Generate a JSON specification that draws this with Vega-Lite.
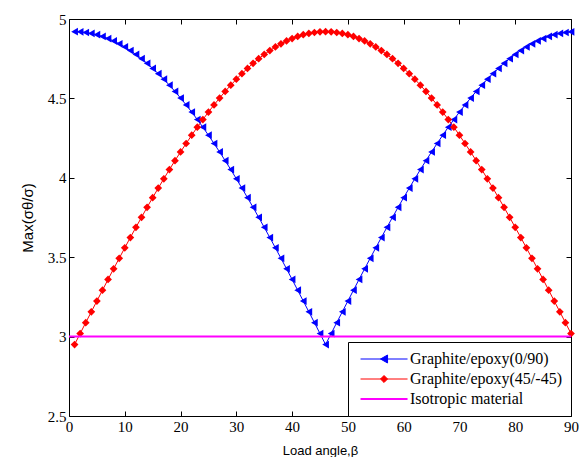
{
  "$schema": "https://vega.github.io/schema/vega-lite/v6.json",
  "width": 502,
  "height": 397,
  "autosize": "none",
  "padding": {"left": 69, "top": 19, "right": 8, "bottom": 41},
  "background": "white",
  "datasets": {
    "g090": [
      {"b":1,"v":4.920},{"b":2,"v":4.919},{"b":3,"v":4.915},{"b":4,"v":4.909},{"b":5,"v":4.901},{"b":6,"v":4.890},{"b":7,"v":4.877},{"b":8,"v":4.862},{"b":9,"v":4.844},{"b":10,"v":4.824},
      {"b":11,"v":4.801},{"b":12,"v":4.777},{"b":13,"v":4.750},{"b":14,"v":4.721},{"b":15,"v":4.689},{"b":16,"v":4.656},{"b":17,"v":4.621},{"b":18,"v":4.583},{"b":19,"v":4.544},{"b":20,"v":4.502},
      {"b":21,"v":4.459},{"b":22,"v":4.414},{"b":23,"v":4.367},{"b":24,"v":4.319},{"b":25,"v":4.268},{"b":26,"v":4.216},{"b":27,"v":4.163},{"b":28,"v":4.108},{"b":29,"v":4.052},{"b":30,"v":3.994},
      {"b":31,"v":3.935},{"b":32,"v":3.875},{"b":33,"v":3.814},{"b":34,"v":3.751},{"b":35,"v":3.688},{"b":36,"v":3.624},{"b":37,"v":3.559},{"b":38,"v":3.493},{"b":39,"v":3.427},{"b":40,"v":3.360},
      {"b":41,"v":3.292},{"b":42,"v":3.224},{"b":43,"v":3.156},{"b":44,"v":3.088},{"b":45,"v":3.019},{"b":46,"v":2.950},{"b":47,"v":3.019},{"b":48,"v":3.088},{"b":49,"v":3.156},{"b":50,"v":3.224},
      {"b":51,"v":3.292},{"b":52,"v":3.360},{"b":53,"v":3.427},{"b":54,"v":3.493},{"b":55,"v":3.559},{"b":56,"v":3.624},{"b":57,"v":3.688},{"b":58,"v":3.751},{"b":59,"v":3.814},{"b":60,"v":3.875},
      {"b":61,"v":3.935},{"b":62,"v":3.994},{"b":63,"v":4.052},{"b":64,"v":4.108},{"b":65,"v":4.163},{"b":66,"v":4.216},{"b":67,"v":4.268},{"b":68,"v":4.319},{"b":69,"v":4.367},{"b":70,"v":4.414},
      {"b":71,"v":4.459},{"b":72,"v":4.502},{"b":73,"v":4.544},{"b":74,"v":4.583},{"b":75,"v":4.621},{"b":76,"v":4.656},{"b":77,"v":4.689},{"b":78,"v":4.721},{"b":79,"v":4.750},{"b":80,"v":4.777},
      {"b":81,"v":4.801},{"b":82,"v":4.824},{"b":83,"v":4.844},{"b":84,"v":4.862},{"b":85,"v":4.877},{"b":86,"v":4.890},{"b":87,"v":4.901},{"b":88,"v":4.909},{"b":89,"v":4.915},{"b":90,"v":4.919}
    ],
    "g45": [
      {"b":1,"v":2.950},{"b":2,"v":3.019},{"b":3,"v":3.088},{"b":4,"v":3.156},{"b":5,"v":3.224},{"b":6,"v":3.292},{"b":7,"v":3.360},{"b":8,"v":3.427},{"b":9,"v":3.493},{"b":10,"v":3.559},
      {"b":11,"v":3.624},{"b":12,"v":3.688},{"b":13,"v":3.751},{"b":14,"v":3.814},{"b":15,"v":3.875},{"b":16,"v":3.935},{"b":17,"v":3.994},{"b":18,"v":4.052},{"b":19,"v":4.108},{"b":20,"v":4.163},
      {"b":21,"v":4.216},{"b":22,"v":4.268},{"b":23,"v":4.319},{"b":24,"v":4.367},{"b":25,"v":4.414},{"b":26,"v":4.459},{"b":27,"v":4.502},{"b":28,"v":4.544},{"b":29,"v":4.583},{"b":30,"v":4.621},
      {"b":31,"v":4.656},{"b":32,"v":4.689},{"b":33,"v":4.721},{"b":34,"v":4.750},{"b":35,"v":4.777},{"b":36,"v":4.801},{"b":37,"v":4.824},{"b":38,"v":4.844},{"b":39,"v":4.862},{"b":40,"v":4.877},
      {"b":41,"v":4.890},{"b":42,"v":4.901},{"b":43,"v":4.909},{"b":44,"v":4.915},{"b":45,"v":4.919},{"b":46,"v":4.920},{"b":47,"v":4.919},{"b":48,"v":4.915},{"b":49,"v":4.909},{"b":50,"v":4.901},
      {"b":51,"v":4.890},{"b":52,"v":4.877},{"b":53,"v":4.862},{"b":54,"v":4.844},{"b":55,"v":4.824},{"b":56,"v":4.801},{"b":57,"v":4.777},{"b":58,"v":4.750},{"b":59,"v":4.721},{"b":60,"v":4.689},
      {"b":61,"v":4.656},{"b":62,"v":4.621},{"b":63,"v":4.583},{"b":64,"v":4.544},{"b":65,"v":4.502},{"b":66,"v":4.459},{"b":67,"v":4.414},{"b":68,"v":4.367},{"b":69,"v":4.319},{"b":70,"v":4.268},
      {"b":71,"v":4.216},{"b":72,"v":4.163},{"b":73,"v":4.108},{"b":74,"v":4.052},{"b":75,"v":3.994},{"b":76,"v":3.935},{"b":77,"v":3.875},{"b":78,"v":3.814},{"b":79,"v":3.751},{"b":80,"v":3.688},
      {"b":81,"v":3.624},{"b":82,"v":3.559},{"b":83,"v":3.493},{"b":84,"v":3.427},{"b":85,"v":3.360},{"b":86,"v":3.292},{"b":87,"v":3.224},{"b":88,"v":3.156},{"b":89,"v":3.088},{"b":90,"v":3.019}
    ],
    "iso": [{"b":0,"v":3},{"b":90,"v":3}]
  },
  "layer": [
    {
      "data": {"name": "g090"},
      "mark": {"type": "line", "strokeWidth": 1},
      "encoding": {
        "x": {"field": "b", "type": "quantitative", "scale": {"domain": [0, 90], "nice": false, "zero": false},
              "axis": {"orient": "bottom", "title": "Load angle,β", "values": [0,10,20,30,40,50,60,70,80,90], "labelPadding": 8, "titlePadding": 10, "domain": false}},
        "y": {"field": "v", "type": "quantitative", "scale": {"domain": [2.5, 5], "nice": false, "zero": false},
              "axis": {"orient": "left", "title": "Max(σθ/σ)", "titleFontSize": 15, "values": [2.5,3,3.5,4,4.5,5], "format": ".1~f", "labelPadding": 8, "titlePadding": 12, "domain": false}},
        "color": {"datum": "Graphite/epoxy(0/90)", "type": "nominal",
          "scale": {"domain": ["Graphite/epoxy(0/90)", "Graphite/epoxy(45/-45)", "Isotropic material"], "range": ["#0000ff", "#ff0000", "#ff00ff"]},
          "legend": {
            "title": null, "orient": "bottom-right", "offset": 0,
            "strokeColor": "black", "fillColor": "white", "padding": 9, "rowPadding": 4,
            "labelFont": "Liberation Serif", "labelFontSize": 16, "labelColor": "black", "labelOffset": 37,
            "symbolSize": 2209,
            "encode": {"symbols": {"update": {
              "shape": {"signal": "datum.value === 'Graphite/epoxy(0/90)' ? 'M-0.19,0H1.81M0.96,-0.17L0.66,0L0.96,0.17Z' : (datum.value === 'Graphite/epoxy(45/-45)' ? 'M-0.19,0H1.81M0.66,0L0.81,-0.15L0.96,0L0.81,0.15Z' : 'M-0.19,0H1.81')"},
              "stroke": {"scale": "color", "field": "value"},
              "fill": {"scale": "color", "field": "value"},
              "strokeWidth": {"signal": "datum.value === 'Isotropic material' ? 2 : 1"},
              "size": {"value": 2209},
              "opacity": {"value": 1},
              "fillOpacity": {"value": 1},
              "strokeOpacity": {"value": 1}
            }}}
          }}
      }
    },
    {
      "data": {"name": "g45"},
      "mark": {"type": "line", "strokeWidth": 1},
      "encoding": {
        "x": {"field": "b", "type": "quantitative", "axis": null},
        "y": {"field": "v", "type": "quantitative", "axis": null},
        "color": {"datum": "Graphite/epoxy(45/-45)", "type": "nominal", "legend": null}
      }
    },
    {
      "data": {"name": "g090"},
      "mark": {"type": "point", "filled": true, "shape": "triangle-left", "size": 60, "opacity": 1},
      "encoding": {
        "x": {"field": "b", "type": "quantitative", "axis": null},
        "y": {"field": "v", "type": "quantitative", "axis": null},
        "color": {"datum": "Graphite/epoxy(0/90)", "type": "nominal", "legend": null}
      }
    },
    {
      "data": {"name": "g45"},
      "mark": {"type": "point", "filled": true, "shape": "diamond", "size": 60, "opacity": 1},
      "encoding": {
        "x": {"field": "b", "type": "quantitative",
              "axis": {"orient": "top", "labels": false, "title": null, "values": [0,10,20,30,40,50,60,70,80,90], "domain": false}},
        "y": {"field": "v", "type": "quantitative",
              "axis": {"orient": "right", "labels": false, "title": null, "values": [2.5,3,3.5,4,4.5,5], "domain": false}},
        "color": {"datum": "Graphite/epoxy(45/-45)", "type": "nominal", "legend": null}
      }
    },
    {
      "data": {"name": "iso"},
      "mark": {"type": "line", "strokeWidth": 2},
      "encoding": {
        "x": {"field": "b", "type": "quantitative", "axis": null},
        "y": {"field": "v", "type": "quantitative", "axis": null},
        "color": {"datum": "Isotropic material", "type": "nominal", "legend": null}
      }
    }
  ],
  "resolve": {"axis": {"x": "independent", "y": "independent"}},
  "config": {
    "view": {"stroke": "black", "strokeWidth": 1},
    "axis": {
      "labelFont": "Liberation Serif", "labelFontSize": 15, "labelColor": "black",
      "titleFont": "Liberation Sans", "titleFontSize": 13, "titleFontWeight": "normal", "titleColor": "black",
      "tickColor": "black", "tickSize": -5, "grid": false, "labelFlush": false, "labelOverlap": false
    }
  }
}
